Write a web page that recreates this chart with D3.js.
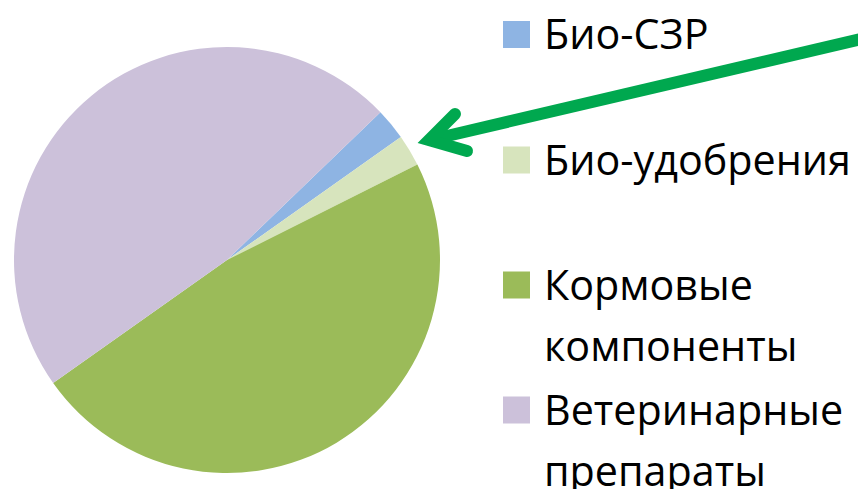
<!DOCTYPE html>
<html>
<head>
<meta charset="utf-8">
<script src="https://cdn.jsdelivr.net/npm/d3@7"></script>
<style>
    body { margin: 0; background: #fff; }
    #chart { width: 858px; height: 489px; }
</style>
</head>
<body>
<div id="chart"></div>
<script>
const categories = ["Био-СЗР", "Био-удобрения", "Кормовые компоненты", "Ветеринарные препараты"];
const shares = [2.4, 2.4, 47.6, 47.6];
const colors = ["#8EB4E3", "#D7E4BD", "#9BBB59", "#CCC1DA"];
// legend labels as they wrap in the picture
const legendLines = [["Био-СЗР"], ["Био-удобрения"], ["Кормовые", "компоненты"], ["Ветеринарные", "препараты"]];

const width = 858, height = 489;
const cx = 227, cy = 260, radius = 213;
const firstAngle = 46.07 * Math.PI / 180;

const svg = d3.select("#chart").append("svg")
    .attr("width", width)
    .attr("height", height);

const pie = d3.pie()
    .sort(null)
    .value(d => d.value)
    .startAngle(firstAngle)
    .endAngle(firstAngle + 2 * Math.PI);

const arc = d3.arc().innerRadius(0).outerRadius(radius);

const data = categories.map((c, i) => ({name: c, value: shares[i]}));

svg.append("g")
    .attr("transform", "translate(" + cx + "," + cy + ")")
    .selectAll("path")
    .data(pie(data))
    .enter()
    .append("path")
    .attr("fill", (d, i) => colors[i])
    .attr("d", arc);

// legend
const fontFamily = "'Open Sans', 'Noto Sans', sans-serif";
const probe = svg.append("text")
    .style("font-family", fontFamily)
    .style("font-size", "40px")
    .text("Био-удобрения");
const probeW = probe.node().getComputedTextLength();
probe.remove();
const fontSize = 40 * 307 / probeW;

const legendY = [34.5, 160, 285, 410];
const lineGap = 61;

const legend = svg.append("g").attr("class", "legend");
const items = legend.selectAll("g")
    .data(legendLines)
    .enter()
    .append("g")
    .attr("transform", (d, i) => "translate(503," + legendY[i] + ")");

items.append("rect")
    .attr("x", 0)
    .attr("y", -13.5)
    .attr("width", 27)
    .attr("height", 27)
    .attr("fill", (d, i) => colors[i]);

items.each(function(lines) {
    const t = d3.select(this).append("text")
        .attr("x", 41)
        .attr("y", 14.5)
        .style("font-family", fontFamily)
        .style("font-size", fontSize + "px")
        .attr("fill", "#000");
    lines.forEach((l, j) => {
        t.append("tspan")
            .attr("x", 41)
            .attr("dy", j === 0 ? 0 : lineGap)
            .text(l);
    });
});

// green arrow pointing at the small slices
const arrowColor = "#00A84F";
svg.append("line")
    .attr("x1", 872).attr("y1", 36.5)
    .attr("x2", 432).attr("y2", 139.5)
    .attr("stroke", arrowColor)
    .attr("stroke-width", 12);

svg.append("path")
    .attr("d", "M455,114 L429,140 L467,151")
    .attr("fill", "none")
    .attr("stroke", arrowColor)
    .attr("stroke-width", 12)
    .attr("stroke-linejoin", "miter")
    .attr("stroke-miterlimit", 10)
    .attr("stroke-linecap", "round");
</script>
</body>
</html>
